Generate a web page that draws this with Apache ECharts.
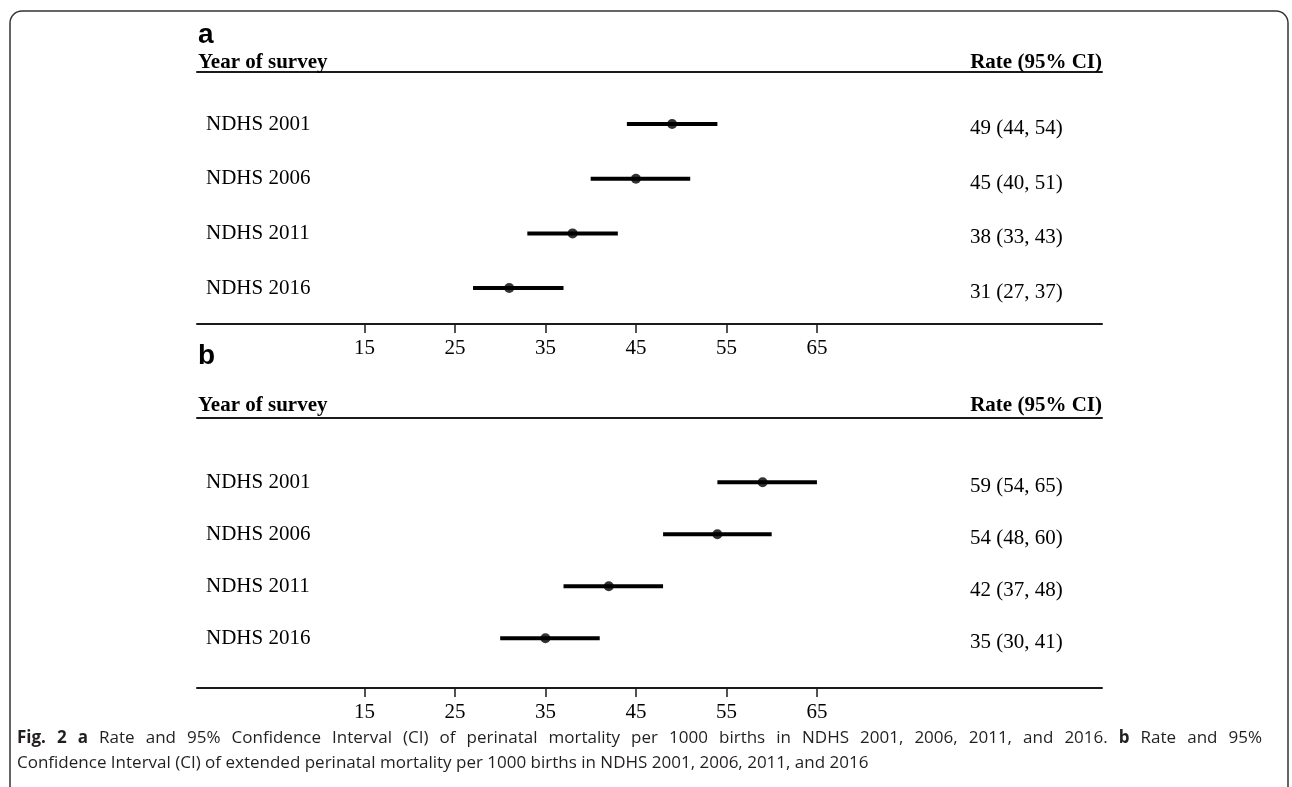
<!DOCTYPE html>
<html><head><meta charset="utf-8">
<script src="https://cdn.jsdelivr.net/npm/echarts@6/dist/echarts.min.js"></script>
<style>html,body{margin:0;padding:0;background:#fff}#c{width:1292px;height:787px}</style>
</head><body><div id="c"></div>
<script>
// ---- data ----
const years = ['NDHS 2001', 'NDHS 2006', 'NDHS 2011', 'NDHS 2016'];
const rateA = [49, 45, 38, 31];
const lowA  = [44, 40, 33, 27];
const highA = [54, 51, 43, 37];
const rateB = [59, 54, 42, 35];
const lowB  = [54, 48, 37, 30];
const highB = [65, 60, 48, 41];
const xTicks = [15, 25, 35, 45, 55, 65];
const panelLetters = ['a', 'b'];
const colHeaders = ['Year of survey', 'Rate (95% CI)'];
const capFig = 'Fig. 2';
const capA = 'Rate and 95% Confidence Interval (CI) of perinatal mortality per 1000 births in NDHS 2001, 2006, 2011, and 2016.';
const capB1 = 'Rate and 95%';
const capB2 = 'Confidence Interval (CI) of extended perinatal mortality per 1000 births in NDHS 2001, 2006, 2011, and 2016';

// ---- layout / style ----
const SERIF = 'Liberation Serif';
const SANS = 'Liberation Sans';
const CAP = 'Open Sans';
const CAP_SIZE = 17;
const CAP_LEFT = 17, CAP_LINE1_WIDTH = 1245;
const X_MIN = -3.5, X_MAX = 96.5;
const panels = [
  {rate: rateA, low: lowA, high: highA, top: 96.7, height: 218.7, headOff: 24.7, axisOff: 8.7},
  {rate: rateB, low: lowB, high: highB, top: 456.3, height: 208, headOff: 38.3, axisOff: 23.7}
];
const fmt = (r, l, h) => r + ' (' + l + ', ' + h + ')';

const grid = [], xAxis = [], yAxis = [], series = [];
panels.forEach((p, i) => {
  grid.push({left: 197, right: 190, top: p.top, height: p.height});
  xAxis.push({
    type: 'value', gridIndex: i, position: 'bottom', offset: p.axisOff, min: X_MIN, max: X_MAX,
    splitLine: {show: false},
    axisLine: {show: true, lineStyle: {color: '#1a1a1a', width: 2}},
    axisTick: {show: true, customValues: xTicks, length: 9, lineStyle: {color: '#1a1a1a', width: 1.5}},
    axisLabel: {show: true, customValues: xTicks, margin: 14, color: '#000', fontFamily: SERIF, fontSize: 21}
  });
  xAxis.push({
    type: 'value', gridIndex: i, position: 'top', offset: p.headOff, min: X_MIN, max: X_MAX,
    splitLine: {show: false}, axisTick: {show: false}, axisLabel: {show: false},
    axisLine: {show: true, lineStyle: {color: '#1a1a1a', width: 2}}
  });
  yAxis.push({
    type: 'category', gridIndex: i, data: years, inverse: true, position: 'left',
    axisLine: {show: false}, axisTick: {show: false}, splitLine: {show: false},
    axisLabel: {inside: true, margin: 9, align: 'left', color: '#000', fontFamily: SERIF, fontSize: 21}
  });
  yAxis.push({
    type: 'category', gridIndex: i, inverse: true, position: 'right',
    data: p.rate.map((r, k) => fmt(r, p.low[k], p.high[k])),
    axisLine: {show: false}, axisTick: {show: false}, splitLine: {show: false},
    axisLabel: {
      inside: true, margin: 132, align: 'left',
      formatter: v => '{v|' + v + '}',
      rich: {v: {padding: [9, 0, 0, 0], color: '#000', fontFamily: SERIF, fontSize: 21}}
    }
  });
  series.push({
    type: 'custom', xAxisIndex: 2 * i, yAxisIndex: 2 * i,
    data: p.low.map((l, k) => [l, p.high[k], k]),
    encode: {x: [0, 1], y: 2},
    renderItem: (params, api) => {
      const s = api.coord([api.value(0), api.value(2)]);
      const e = api.coord([api.value(1), api.value(2)]);
      return {type: 'line', shape: {x1: s[0], y1: s[1], x2: e[0], y2: e[1]}, style: {stroke: '#000', lineWidth: 4}};
    },
    silent: true, z: 2
  });
  series.push({
    type: 'scatter', xAxisIndex: 2 * i, yAxisIndex: 2 * i,
    data: p.rate.map((r, k) => [r, k]),
    symbol: 'circle', symbolSize: 10, itemStyle: {color: '#000'}, silent: true, z: 3
  });
});

// ---- justified first caption line ----
const line1Tokens = [];
(capFig + ' ' + panelLetters[0]).split(' ').forEach(w => line1Tokens.push([w, 'b']));
capA.split(' ').forEach(w => line1Tokens.push([w, 'n']));
line1Tokens.push([panelLetters[1], 'b']);
capB1.split(' ').forEach(w => line1Tokens.push([w, 'n']));
const ctx = document.createElement('canvas').getContext('2d');
let wordsW = 0;
line1Tokens.forEach(([w, s]) => {
  ctx.font = (s === 'b' ? 'bold ' : '') + CAP_SIZE + 'px "' + CAP + '"';
  wordsW += ctx.measureText(w).width;
});
const gapW = (CAP_LINE1_WIDTH - wordsW) / (line1Tokens.length - 1);
const line1 = line1Tokens.map(([w, s]) => '{' + s + '|' + w + '}').join('{s| }');
const captionText = line1 + '\n{n|' + capB2 + '}';

const capStyle = {fontFamily: CAP, fontSize: CAP_SIZE, color: '#231f20', lineHeight: 25};
const title = [
  {text: panelLetters[0], left: 198, top: 21, padding: 0, textStyle: {fontFamily: SANS, fontWeight: 'bold', fontSize: 28, color: '#000'}},
  {text: colHeaders[0], left: 198, top: 52, padding: 0, textStyle: {fontFamily: SERIF, fontWeight: 'bold', fontSize: 21, color: '#000'}},
  {text: colHeaders[1], right: 190, top: 52, padding: 0, textStyle: {fontFamily: SERIF, fontWeight: 'bold', fontSize: 21, color: '#000'}},
  {text: panelLetters[1], left: 198, top: 342, padding: 0, textStyle: {fontFamily: SANS, fontWeight: 'bold', fontSize: 28, color: '#000'}},
  {text: colHeaders[0], left: 198, top: 395, padding: 0, textStyle: {fontFamily: SERIF, fontWeight: 'bold', fontSize: 21, color: '#000'}},
  {text: colHeaders[1], right: 190, top: 395, padding: 0, textStyle: {fontFamily: SERIF, fontWeight: 'bold', fontSize: 21, color: '#000'}},
  {
    text: captionText,
    left: CAP_LEFT, top: 726, padding: 0,
    textStyle: {
      fontWeight: 'normal',
      rich: {
        b: Object.assign({fontWeight: 'bold'}, capStyle),
        n: Object.assign({fontWeight: 'normal'}, capStyle),
        s: Object.assign({fontWeight: 'normal', width: gapW}, capStyle)
      }
    }
  }
];

const chart = echarts.init(document.getElementById('c'), null, {renderer: 'canvas'});
chart.setOption({
  animation: false,
  backgroundColor: '#fff',
  graphic: [{
    type: 'rect', shape: {x: 10, y: 11, width: 1278, height: 820, r: 12},
    style: {fill: 'none', stroke: '#333', lineWidth: 1.5}, silent: true
  }],
  title, grid, xAxis, yAxis, series
});
</script>
</body></html>
